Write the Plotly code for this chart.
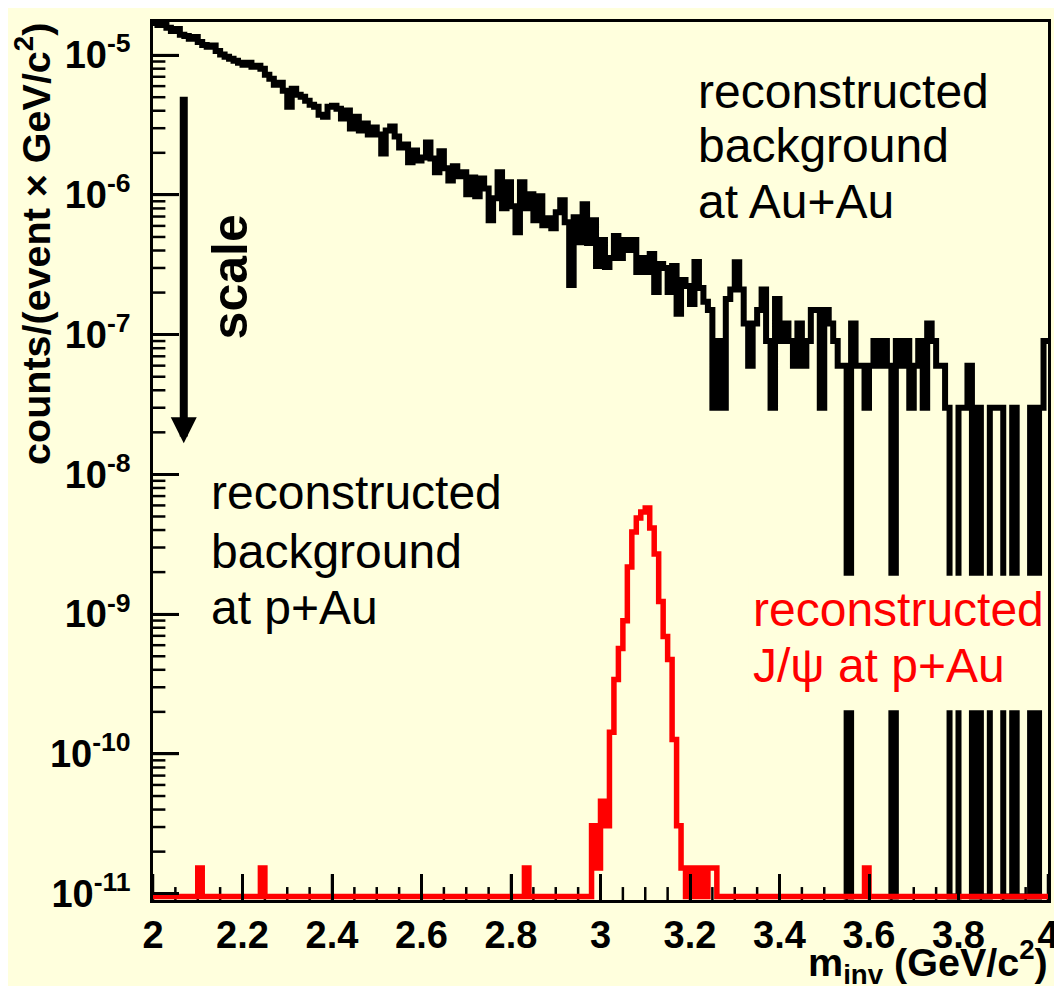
import numpy as np
import plotly.graph_objects as go

# ---------------- data ----------------
m_min, m_max, bin_width = 2.0, 4.0, 0.01

# reconstructed background at Au+Au (counts/(event x GeV/c^2)), 0.01 GeV bins from 2.00 to 4.00
bg_auau = [
    1.70e-5, 1.64e-5, 1.70e-5, 1.57e-5, 1.49e-5, 1.54e-5, 1.40e-5, 1.37e-5, 1.31e-5, 1.35e-5,
    1.24e-5, 1.18e-5, 1.15e-5, 1.17e-5, 1.07e-5, 1.01e-5, 9.73e-6, 9.41e-6, 9.11e-6, 8.81e-6,
    8.53e-6, 8.81e-6, 8.25e-6, 8.39e-6, 7.99e-6, 7.24e-6, 6.78e-6, 6.14e-6, 6.35e-6, 5.57e-6,
    4.28e-6, 5.75e-6, 5.21e-6, 5.04e-6, 4.72e-6, 4.42e-6, 4.28e-6, 3.75e-6, 3.63e-6, 4.28e-6,
    4.35e-6, 4.14e-6, 3.52e-6, 4.01e-6, 2.98e-6, 3.63e-6, 2.89e-6, 3.24e-6, 2.70e-6, 3.03e-6,
    2.70e-6, 1.98e-6, 2.89e-6, 3.08e-6, 2.62e-6, 2.18e-6, 2.29e-6, 1.71e-6, 2.08e-6, 1.76e-6,
    1.85e-6, 2.37e-6, 1.82e-6, 1.45e-6, 2.05e-6, 1.55e-6, 1.27e-6, 1.60e-6, 1.36e-6, 1.45e-6,
    1.01e-6, 1.33e-6, 9.77e-7, 1.31e-6, 1.11e-6, 6.59e-7, 9.46e-7, 1.45e-6, 8.03e-7, 1.23e-6,
    8.29e-7, 5.41e-7, 1.23e-6, 8.03e-7, 1.01e-6, 6.59e-7, 9.77e-7, 6.07e-7, 6.81e-7, 5.78e-7,
    7.52e-7, 9.15e-7, 6.38e-7, 2.27e-7, 6.92e-7, 4.59e-7, 8.57e-7, 4.52e-7, 6.59e-7, 3.10e-7,
    4.75e-7, 3.05e-7, 3.53e-7, 5.07e-7, 3.53e-7, 4.75e-7, 4.03e-7, 4.75e-7, 2.81e-7, 3.53e-7,
    2.81e-7, 3.77e-7, 2.02e-7, 3.20e-7, 3.00e-7, 2.02e-7, 3.10e-7, 1.41e-7, 2.46e-7, 2.23e-7,
    1.66e-7, 3.31e-7, 2.16e-7, 1.72e-7, 1.5e-7, 3e-8, 9e-8, 3e-8, 1.8e-7, 2.1e-7,
    3.3e-7, 2.1e-7, 1.2e-7, 6e-8, 1.2e-7, 1.5e-7, 2.1e-7, 9e-8, 3e-8, 1.8e-7,
    9e-8, 1.2e-7, 9e-8, 6e-8, 1.2e-7, 6e-8, 9e-8, 1.5e-7, 1.5e-7, 3e-8,
    1.5e-7, 1.2e-7, 9e-8, 6e-8, 6e-8, 0, 1.2e-7, 6e-8, 6e-8, 3e-8,
    6e-8, 9e-8, 6e-8, 9e-8, 6e-8, 0, 9e-8, 6e-8, 9e-8, 3e-8,
    6e-8, 9e-8, 3e-8, 1.2e-7, 9e-8, 6e-8, 6e-8, 3e-8, 0, 0,
    3e-8, 3e-8, 6e-8, 0, 3e-8, 0, 0, 3e-8, 3e-8, 3e-8,
    0, 0, 3e-8, 0, 0, 0, 3e-8, 0, 3e-8, 9e-8,
]

# reconstructed J/psi at p+Au, same binning
jpsi_pau = [
    0, 0, 0, 0, 0, 0, 0, 0, 0, 0,
    1.53e-11, 0, 0, 0, 0, 0, 0, 0, 0, 0,
    0, 0, 0, 0, 1.53e-11, 0, 0, 0, 0, 0,
    0, 0, 0, 0, 0, 0, 0, 0, 0, 0,
    0, 0, 0, 0, 0, 0, 0, 0, 0, 0,
    0, 0, 0, 0, 0, 0, 0, 0, 0, 0,
    0, 0, 0, 0, 0, 0, 0, 0, 0, 0,
    0, 0, 0, 0, 0, 0, 0, 0, 0, 0,
    0, 0, 0, 1.53e-11, 0, 0, 0, 0, 0, 0,
    0, 0, 0, 0, 0, 0, 0, 0, 3.06e-11, 1.53e-11,
    4.59e-11, 3.06e-11, 1.43e-10, 3.41e-10, 5.68e-10, 8.99e-10, 2.18e-9, 3.87e-9, 4.87e-9, 5.38e-9,
    5.74e-9, 4.13e-9, 2.70e-9, 1.23e-9, 6.91e-10, 4.74e-10, 1.27e-10, 3.06e-11, 1.53e-11, 0,
    1.53e-11, 0, 1.53e-11, 0, 1.53e-11, 1.53e-11, 0, 0, 0, 0,
    0, 0, 0, 0, 0, 0, 0, 0, 0, 0,
    0, 0, 0, 0, 0, 0, 0, 0, 0, 0,
    0, 0, 0, 0, 0, 0, 0, 0, 0, 1.53e-11,
    0, 0, 0, 0, 0, 0, 0, 0, 0, 0,
    0, 0, 0, 0, 0, 0, 0, 0, 0, 0,
    0, 0, 0, 0, 0, 0, 0, 0, 0, 0,
    0, 0, 0, 0, 0, 0, 0, 0, 0, 0,
]

y_tick_vals = [1e-11, 1e-10, 1e-9, 1e-8, 1e-7, 1e-6, 1e-5]
y_tick_text = ["10<sup>-11</sup>", "10<sup>-10</sup>", "10<sup>-9</sup>", "10<sup>-8</sup>",
               "10<sup>-7</sup>", "10<sup>-6</sup>", "10<sup>-5</sup>"]

# ---------------- style / layout ----------------
FONT = "Liberation Sans"
BG = "#FFFFDD"
W, H = 1062, 986
ML, MR, MT = 145, 15, 11
Y_LOG_RANGE = [-11.045, -4.763]
PLOT_H = 881.4
MB = H - MT - PLOT_H
PLOT_W = W - ML - MR
EMPTY_LEVEL = 10 ** -11.02   # empty bins are drawn at the frame bottom
MAJOR_LEN, MINOR_LEN, TICK_W = 26, 12.5, 2.5
X_MAJOR, X_MINOR = 0.2, 0.05


def px_x(px):
    return (px - ML) / PLOT_W


def px_y(py):
    return (MT + PLOT_H - py) / PLOT_H


n_bins = len(bg_auau)
edges = np.round(m_min + bin_width * np.arange(n_bins + 1), 4)


def step_y(vals):
    v = np.asarray(vals, dtype=float)
    v = np.where(v > 0, v, EMPTY_LEVEL)
    return np.append(v, v[-1])


# ---- ROOT-style inside tick marks drawn through the axes' own scales ----
x_per_px = (m_max - m_min) / PLOT_W
dec_per_px = (Y_LOG_RANGE[1] - Y_LOG_RANGE[0]) / PLOT_H
tx, ty = [], []
for v in y_tick_vals:
    for k in range(1, 10):
        val = k * v
        if np.log10(val) > Y_LOG_RANGE[1]:
            continue
        length = MAJOR_LEN if k == 1 else MINOR_LEN
        tx += [m_min, m_min + length * x_per_px, None]
        ty += [val, val, None]
y_bottom = 10 ** Y_LOG_RANGE[0]
for i, m in enumerate(np.round(np.arange(m_min, m_max + 1e-9, X_MINOR), 2)):
    length = MAJOR_LEN if i % 4 == 0 else MINOR_LEN + 0.5
    tx += [float(m), float(m), None]
    ty += [y_bottom, 10 ** (Y_LOG_RANGE[0] + length * dec_per_px), None]

fig = go.Figure()
fig.add_trace(go.Scatter(x=tx, y=ty, mode="lines", line=dict(color="black", width=TICK_W),
                         hoverinfo="skip", connectgaps=False))
fig.add_trace(go.Scatter(x=edges, y=step_y(bg_auau), mode="lines", line_shape="hv",
                         line=dict(color="black", width=6), hoverinfo="skip"))
fig.add_trace(go.Scatter(x=edges, y=step_y(jpsi_pau), mode="lines", line_shape="hv",
                         line=dict(color="#FF0000", width=5.5), hoverinfo="skip"))

tick_font = dict(family=FONT, size=38, color="black", weight="bold")

fig.update_layout(
    width=W, height=H,
    margin=dict(l=ML, r=MR, t=MT, b=MB, pad=0),
    paper_bgcolor=BG, plot_bgcolor=BG,
    showlegend=False,
    xaxis=dict(range=[m_min, m_max], tickmode="linear", tick0=m_min, dtick=X_MAJOR,
               tickangle=0, ticks="inside", ticklen=MAJOR_LEN, tickwidth=TICK_W,
               tickcolor="black", showline=True, linewidth=2.5,
               linecolor="black", mirror=True, showgrid=False, zeroline=False,
               tickfont=tick_font),
    yaxis=dict(type="log", range=Y_LOG_RANGE, tickmode="array", tickvals=y_tick_vals,
               ticktext=y_tick_text, ticks="inside", ticklen=MAJOR_LEN, tickwidth=TICK_W,
               tickcolor="black", showline=True, linewidth=2.5,
               linecolor="black", mirror=True, showgrid=False, zeroline=False,
               ticklabelstandoff=12, tickfont=tick_font),
)

# pale box behind the red label (hides the background histogram there)
fig.add_shape(type="rect", xref="paper", yref="paper", layer="above",
              x0=px_x(745), x1=px_x(1045.5), y0=px_y(702), y1=px_y(567),
              fillcolor=BG, line=dict(width=0))

txt_font = dict(family=FONT, size=48, color="black")
red_font = dict(family=FONT, size=48, color="#FF0000")
bold_title = dict(family=FONT, size=39.5, color="black", weight="bold")

annotations = [
    # y-axis title (top aligned, ROOT style)
    dict(text="counts/(event \u00d7 GeV/c<sup>2</sup>)", textangle=-90,
         x=px_x(24), y=px_y(10), xanchor="center", yanchor="top", font=bold_title),
    # x-axis title (right aligned)
    dict(text="m<sub>inv</sub> (GeV/c<sup>2</sup>)",
         x=px_x(1049), y=px_y(955), xanchor="right", yanchor="middle", font=bold_title),
    # Au+Au label
    dict(text="reconstructed", x=px_x(692), y=px_y(81), xanchor="left", yanchor="middle", font=txt_font),
    dict(text="background", x=px_x(692), y=px_y(135), xanchor="left", yanchor="middle", font=txt_font),
    dict(text="at Au+Au", x=px_x(692), y=px_y(191), xanchor="left", yanchor="middle", font=txt_font),
    # p+Au background label
    dict(text="reconstructed", x=px_x(201), y=px_y(483), xanchor="left", yanchor="middle", font=txt_font),
    dict(text="background", x=px_x(201), y=px_y(543), xanchor="left", yanchor="middle", font=txt_font),
    dict(text="at p+Au", x=px_x(201), y=px_y(599), xanchor="left", yanchor="middle", font=txt_font),
    # red J/psi label
    dict(text="reconstructed", x=px_x(748), y=px_y(601), xanchor="left", yanchor="middle", font=red_font),
    dict(text="J/\u03c8 at p+Au", x=px_x(748), y=px_y(657), xanchor="left", yanchor="middle", font=red_font),
    # "scale"
    dict(text="scale", textangle=-90, x=px_x(223), y=px_y(267),
         xanchor="center", yanchor="middle",
         font=dict(family=FONT, size=50, color="black", weight="bold")),
    # scale arrow
    dict(text="", x=px_x(176), y=px_y(434), ax=0, ay=-348, showarrow=True,
         arrowhead=2, arrowwidth=8, arrowsize=0.65, arrowcolor="black"),
]
for a in annotations:
    a.setdefault("xref", "paper")
    a.setdefault("yref", "paper")
    a.setdefault("showarrow", False)
    fig.add_annotation(**a)

fig.write_html("out.html")
